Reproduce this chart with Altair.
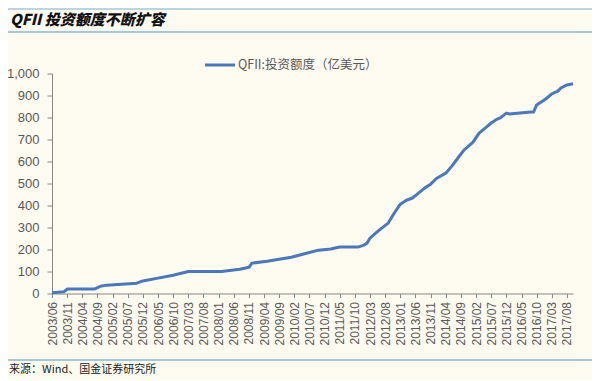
import altair as alt
import pandas as pd

# ---- data ----
dates = ["2003-06", "2003-10", "2003-11", "2004-08", "2004-10", "2004-12", "2005-10",
         "2005-12", "2006-05", "2006-10", "2007-03", "2008-02", "2008-08", "2008-11",
         "2008-12", "2009-05", "2009-09", "2010-01", "2010-06", "2010-10", "2011-02",
         "2011-05", "2011-11", "2012-01", "2012-02", "2012-03", "2012-06", "2012-09",
         "2012-11", "2013-01", "2013-03", "2013-05", "2013-07", "2013-09", "2013-11",
         "2014-01", "2014-04", "2014-06", "2014-08", "2014-10", "2015-01", "2015-03",
         "2015-05", "2015-07", "2015-09", "2015-10", "2015-12", "2016-01", "2016-08",
         "2016-09", "2016-10", "2016-12", "2017-01", "2017-03", "2017-05", "2017-06",
         "2017-08", "2017-10"]
values = [3, 8, 20, 20, 33, 38, 47,
          57, 70, 83, 100, 100, 110, 119,
          138, 147, 156, 165, 183, 197, 202,
          211, 211, 220, 229, 252, 288, 320,
          366, 406, 424, 434, 456, 479, 497,
          524, 547, 579, 616, 652, 688, 729,
          752, 775, 793, 798, 820, 816, 825,
          825, 857, 875, 884, 907, 920, 934,
          948, 953]
tick_labels = ["2003/06", "2003/11", "2004/04", "2004/09", "2005/02", "2005/07", "2005/12",
               "2006/05", "2006/10", "2007/03", "2007/08", "2008/01", "2008/06", "2008/11",
               "2009/04", "2009/09", "2010/02", "2010/07", "2010/12", "2011/05", "2011/10",
               "2012/03", "2012/08", "2013/01", "2013/06", "2013/11", "2014/04", "2014/09",
               "2015/02", "2015/07", "2015/12", "2016/05", "2016/10", "2017/03", "2017/08"]
y_ticks = [0, 100, 200, 300, 400, 500, 600, 700, 800, 900, 1000]

series_name = "QFII:投资额度（亿美元）"
title_text = "QFII 投资额度不断扩容"
source_text = "来源：Wind、国金证券研究所"


def month_index(s):
    s = s.replace("/", "-")
    y, m = s.split("-")
    return (int(y) - 2003) * 12 + int(m) - 6


df = pd.DataFrame({"t": [month_index(d) for d in dates], "v": values})
tick_vals = [month_index(l) for l in tick_labels]
label_expr = "[" + ",".join("'%s'" % l for l in tick_labels) + "][round(datum.value / 5)]"

GREY = "#595959"
AXIS = "#868686"
LINE = "#4A78B8"
BAR = "#A3C9D8"

line = alt.Chart(df).mark_line(color=LINE, strokeWidth=3, strokeJoin="round").encode(
    x=alt.X("t:Q",
            scale=alt.Scale(domain=[0, 172], nice=False, zero=False),
            axis=alt.Axis(values=tick_vals, labelExpr=label_expr, labelAngle=270,
                          title=None, grid=False, tickSize=4, labelPadding=4,
                          labelFontSize=12, labelFont="Liberation Sans",
                          labelColor=GREY, domainColor=AXIS, tickColor=AXIS,
                          labelOverlap=False, labelFlush=False)),
    y=alt.Y("v:Q",
            scale=alt.Scale(domain=[0, 1000], nice=False),
            axis=alt.Axis(values=y_ticks, format=",.0f", title=None, grid=False,
                          tickSize=5, labelPadding=8, labelFontSize=13,
                          labelFont="Liberation Sans", labelColor=GREY,
                          domainColor=AXIS, tickColor=AXIS)),
)

one = pd.DataFrame({"k": [0]})

title = alt.Chart(one).mark_text(
    text=title_text, font="Noto Sans CJK SC", fontSize=15, fontWeight=900,
    fontStyle="italic", color="#111111", align="left", baseline="middle"
).encode(x=alt.value(-42), y=alt.value(-53.5))

rule_top = alt.Chart(one).mark_rule(color=BAR, strokeWidth=1.5).encode(
    x=alt.value(-44), x2=alt.value(542), y=alt.value(-64.5))
rule_mid = alt.Chart(one).mark_rule(color=BAR, strokeWidth=2).encode(
    x=alt.value(-44), x2=alt.value(542), y=alt.value(-41.5))
rule_bot = alt.Chart(one).mark_rule(color=BAR, strokeWidth=2).encode(
    x=alt.value(-44), x2=alt.value(542), y=alt.value(286.5))

source = alt.Chart(one).mark_text(
    text=source_text, font="Noto Sans CJK SC", fontSize=11, color="#222222",
    align="left", baseline="middle"
).encode(x=alt.value(-43), y=alt.value(296.5))

leg_line = alt.Chart(one).mark_rule(color=LINE, strokeWidth=3).encode(
    x=alt.value(153), x2=alt.value(183), y=alt.value(-8.5))
leg_text = alt.Chart(one).mark_text(
    text=series_name, font="Noto Sans CJK SC", fontSize=12.5, color=GREY,
    align="left", baseline="middle"
).encode(x=alt.value(186), y=alt.value(-8.5))

chart = alt.layer(line, title, rule_top, rule_mid, rule_bot, source, leg_line, leg_text).properties(
    width=521, height=220,
    background="#FEFBF1",
    padding={"left": 44, "top": 65.5, "right": 19, "bottom": 86.5},
    autosize=alt.AutoSizeParams(type="none"),
).configure_view(stroke=None)

chart.save("out.html", embed_options={"renderer": "svg", "actions": False})
